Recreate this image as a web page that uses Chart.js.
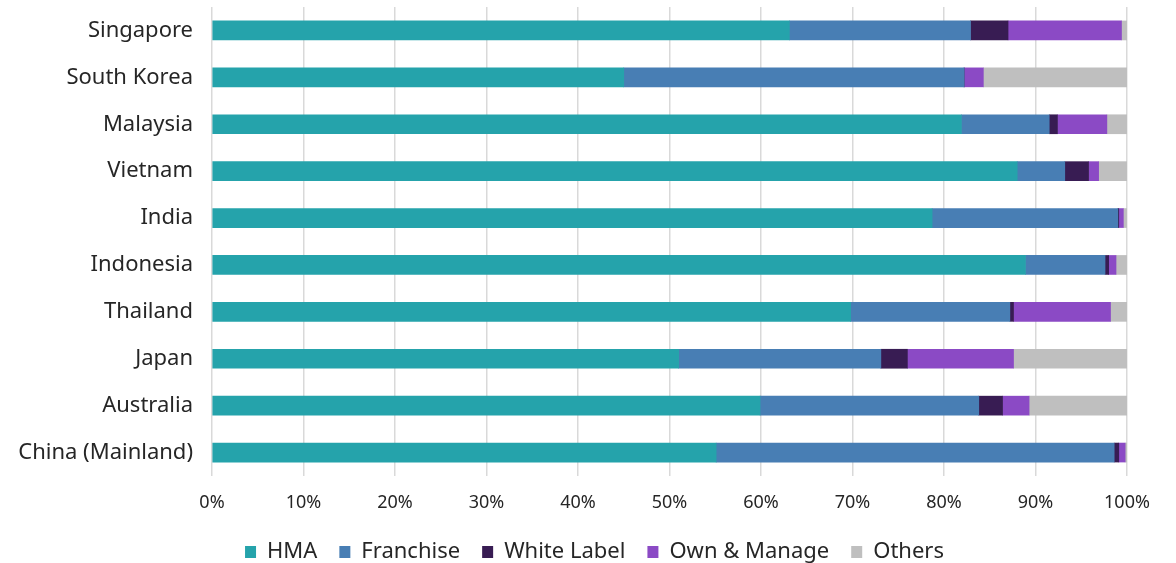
<!DOCTYPE html>
<html>
<head>
<meta charset="utf-8">
<script src="https://cdn.jsdelivr.net/npm/chart.js@4"></script>
<style>
  html, body { margin: 0; padding: 0; background: #fff; }
  #wrap { width: 1176px; height: 563px; }
</style>
</head>
<body>
<div id="wrap"><canvas id="mixChart" width="1176" height="563"></canvas></div>
<script>
const markets = ['Singapore','South Korea','Malaysia','Vietnam','India','Indonesia','Thailand','Japan','Australia','China (Mainland)'];
const hma         = [63.1, 45.0, 81.9, 88.0, 78.7, 88.9, 69.8, 51.0, 59.9, 55.1];
const franchise   = [19.8, 37.2,  9.6,  5.2, 20.3,  8.7, 17.4, 22.1, 23.9, 43.5];
const whiteLabel  = [ 4.1,  0.0,  0.9,  2.6,  0.1,  0.4,  0.4,  2.9,  2.6,  0.5];
const ownManage   = [12.4,  2.1,  5.4,  1.1,  0.5,  0.8, 10.6, 11.6,  2.9,  0.7];
const others      = [ 0.6, 15.7,  2.2,  3.1,  0.4,  1.2,  1.8, 12.4, 10.7,  0.2];
const xTicks = [0, 10, 20, 30, 40, 50, 60, 70, 80, 90, 100];

const font = '"Noto Sans", "Open Sans", sans-serif';

function series(label, data, color) {
    return { label, data, backgroundColor: color, borderWidth: 0, barThickness: 19 };
}

// fixed legend band height, and the legend row nudged right a little
const legendBand = {
    id: 'legendBand',
    beforeInit(chart) {
        const fit = chart.legend.fit;
        chart.legend.fit = function () {
            fit.call(this);
            this.height = 44;
        };
    },
    afterLayout(chart) {
        chart.legend.left += 31;
        chart.legend.right += 31;
    }
};

new Chart(document.getElementById('mixChart'), {
    type: 'bar',
    data: {
        labels: markets,
        datasets: [
            series('HMA', hma, '#25a3ab'),
            series('Franchise', franchise, '#487eb4'),
            series('White Label', whiteLabel, '#381c53'),
            series('Own & Manage', ownManage, '#8b4ac5'),
            series('Others', others, '#bfbfbf')
        ]
    },
    plugins: [legendBand],
    options: {
        indexAxis: 'y',
        responsive: false,
        animation: false,
        layout: { padding: { top: 7, right: 49, bottom: 0, left: 0 } },
        plugins: {
            tooltip: { enabled: false },
            legend: {
                position: 'bottom',
                labels: {
                    boxWidth: 11,
                    boxHeight: 12,
                    padding: 22,
                    color: '#262626',
                    font: { family: font, size: 22 }
                }
            }
        },
        scales: {
            x: {
                stacked: true,
                min: 0,
                max: 100,
                afterBuildTicks: axis => { axis.ticks = xTicks.map(v => ({ value: v })); },
                afterFit: axis => { axis.height = 43; },
                grid: { color: '#d9d9d9', lineWidth: 1.5, drawTicks: false },
                border: { display: false },
                ticks: {
                    padding: 16,
                    color: '#262626',
                    font: { family: font, size: 18 },
                    callback: v => v + '%'
                }
            },
            y: {
                stacked: true,
                afterFit: axis => {
                    axis.width = 212;
                    axis.paddingTop = 0;
                    axis.paddingBottom = 0;
                },
                grid: { display: false, drawTicks: false },
                border: { display: false },
                ticks: {
                    padding: 19,
                    color: '#262626',
                    font: { family: font, size: 22 }
                }
            }
        }
    }
});
</script>
</body>
</html>
